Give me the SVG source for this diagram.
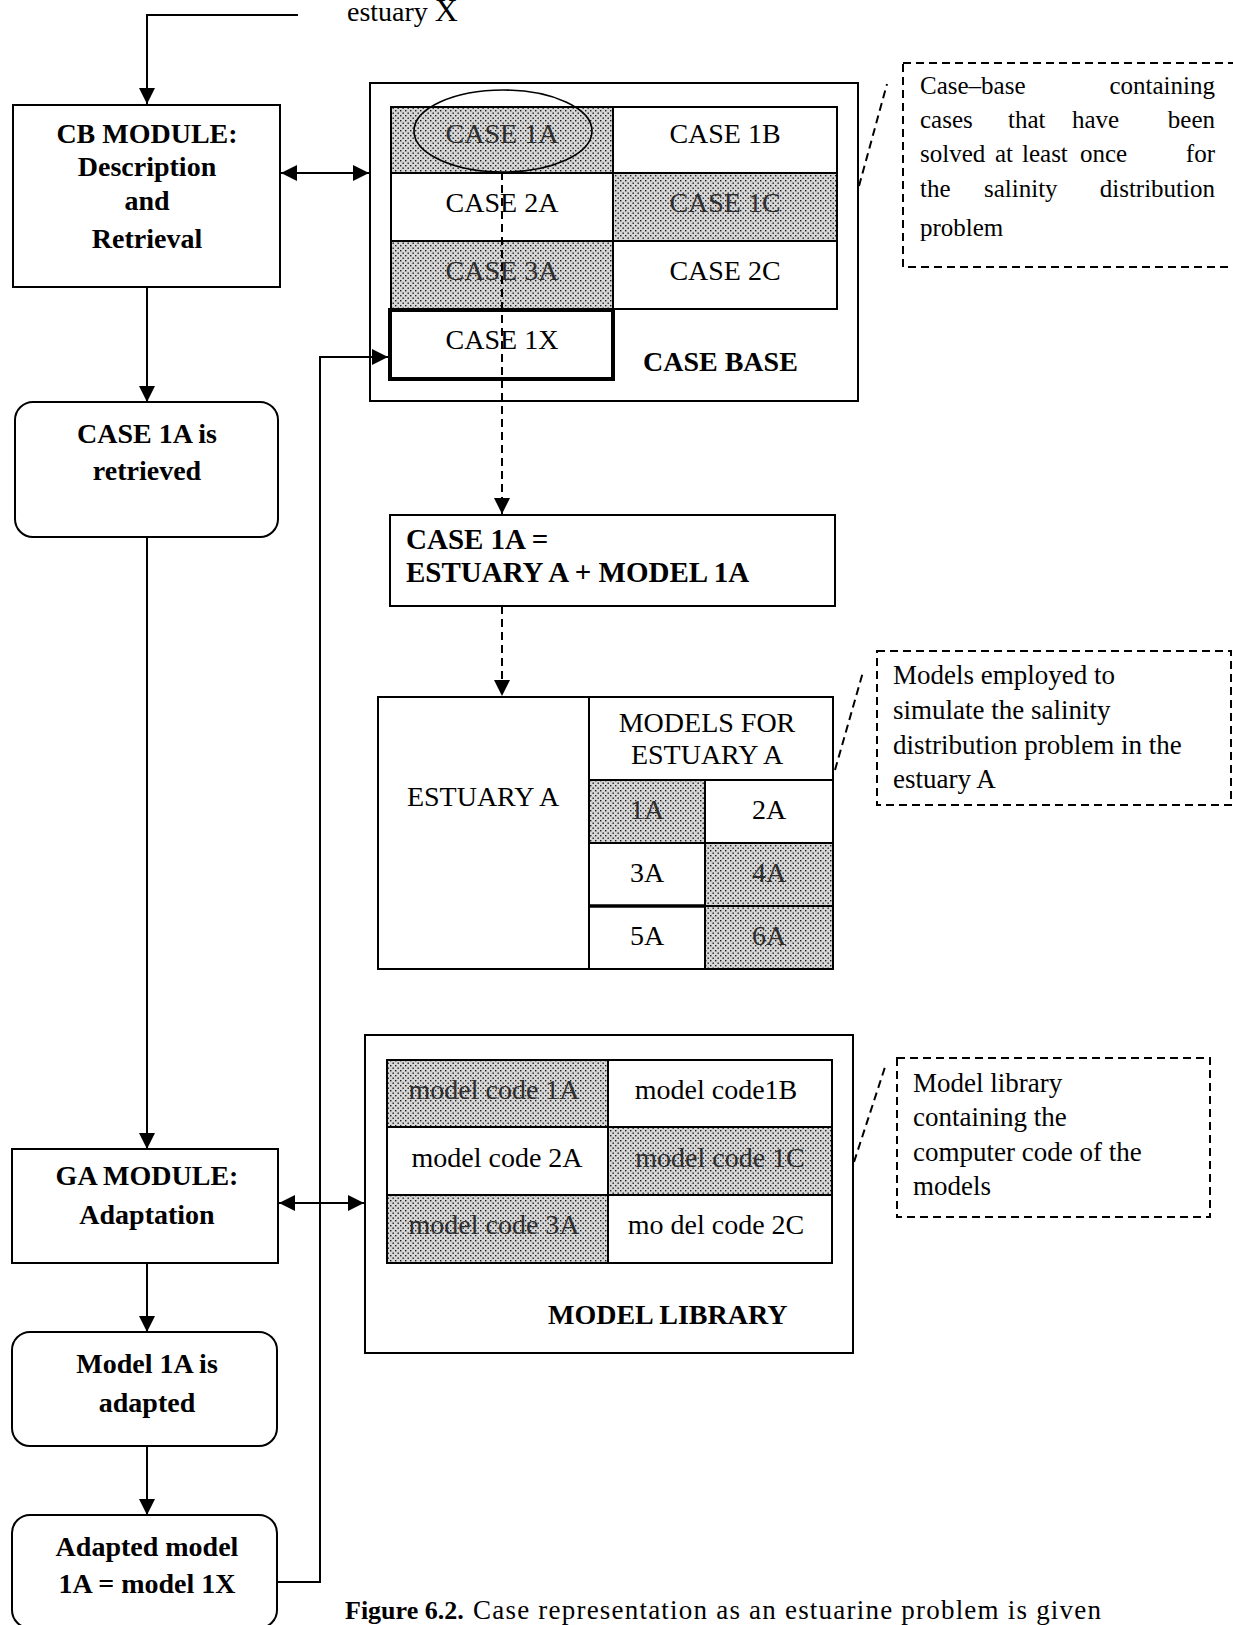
<svg xmlns="http://www.w3.org/2000/svg" width="1233" height="1625" viewBox="0 0 1233 1625">
  <style>
    .box { fill: #fff; stroke: #000; stroke-width: 2; }
    .frame { fill: none; stroke: #000; stroke-width: 2; }
    .thin { fill: none; stroke: #000; stroke-width: 1.6; }
    .shade { fill: url(#dots); stroke: none; }
    .line { fill: none; stroke: #000; stroke-width: 2; }
    .dash { fill: none; stroke: #000; stroke-width: 2; stroke-dasharray: 8 5; }
    .b { font-family: "Liberation Serif", "Times New Roman", serif; font-weight: bold; font-size: 28px; fill: #000; }
    .r { font-family: "Liberation Serif", "Times New Roman", serif; font-size: 28px; fill: #000; }
    .n { font-family: "Liberation Serif", "Times New Roman", serif; font-size: 27px; fill: #000; }
    .j { font-size: 25px; }
    .g { fill: #2e2e2e; }
    .mid { text-anchor: middle; }
    .end { text-anchor: end; }
  </style>
  <defs>
    <!-- stippled fill used for highlighted cells -->
    <pattern id="dots" width="5" height="5" patternUnits="userSpaceOnUse">
      <rect width="5" height="5" fill="#d6d6d6"/>
      <rect x="0" y="0" width="1.4" height="1.4" fill="#1a1a1a"/>
      <rect x="2.5" y="2.5" width="1.4" height="1.4" fill="#1a1a1a"/>
    </pattern>
    <marker id="arrow" markerUnits="userSpaceOnUse" viewBox="0 0 16 16" markerWidth="16" markerHeight="16" refX="16" refY="8" orient="auto-start-reverse">
      <path d="M0,0 L16,8 L0,16 Z" fill="#000"/>
    </marker>
  </defs>

  <!-- input label -->
  <g id="input">
    <text class="r" x="347" y="21">estuary <tspan font-size="32">X</tspan></text>
  </g>

  <!-- left column: process steps -->
  <g id="cb-module">
    <rect class="box" x="13" y="105" width="267" height="182"/>
    <text class="b mid" x="147" y="143">CB MODULE:</text>
    <text class="b mid" x="147" y="176">Description</text>
    <text class="b mid" x="147" y="210">and</text>
    <text class="b mid" x="147" y="248">Retrieval</text>
  </g>

  <g id="case-retrieved">
    <rect class="box" x="15" y="402" width="263" height="135" rx="18"/>
    <text class="b mid" x="147" y="443">CASE 1A is</text>
    <text class="b mid" x="147" y="480">retrieved</text>
  </g>

  <g id="ga-module">
    <rect class="box" x="12" y="1149" width="266" height="114"/>
    <text class="b mid" x="147" y="1185">GA MODULE:</text>
    <text class="b mid" x="147" y="1224">Adaptation</text>
  </g>

  <g id="model-adapted">
    <rect class="box" x="12" y="1332" width="265" height="114" rx="18"/>
    <text class="b mid" x="147" y="1373">Model 1A is</text>
    <text class="b mid" x="147" y="1412">adapted</text>
  </g>

  <g id="adapted-model">
    <rect class="box" x="12" y="1515" width="265" height="113" rx="18"/>
    <text class="b mid" x="147" y="1556">Adapted model</text>
    <text class="b mid" x="147" y="1593">1A = model 1X</text>
  </g>

  <!-- case base -->
  <g id="case-base">
    <rect class="box" x="370" y="83" width="488" height="318"/>
    <rect class="shade" x="391" y="107" width="222" height="66"/>
    <rect class="shade" x="613" y="173" width="224" height="68"/>
    <rect class="shade" x="391" y="241" width="222" height="68"/>
    <rect class="frame" x="391" y="107" width="446" height="202"/>
    <path class="line" d="M613,107 V309 M391,173 H837 M391,241 H837"/>
    <rect class="frame" x="390" y="310" width="223" height="69" style="stroke-width:4"/>
    <text class="r mid g" x="502" y="143">CASE 1A</text>
    <text class="r mid" x="725" y="143">CASE 1B</text>
    <text class="r mid" x="502" y="212">CASE 2A</text>
    <text class="r mid g" x="725" y="212">CASE 1C</text>
    <text class="r mid g" x="502" y="280">CASE 3A</text>
    <text class="r mid" x="725" y="280">CASE 2C</text>
    <text class="r mid" x="502" y="349">CASE 1X</text>
    <text class="b" x="643" y="371">CASE BASE</text>
    <ellipse class="thin" cx="503" cy="131" rx="89" ry="41"/>
    <path class="dash" d="M502,172 V514" marker-end="url(#arrow)"/>
  </g>

  <g id="case-definition">
    <rect class="box" x="390" y="515" width="445" height="91"/>
    <text class="b" x="406" y="549" style="font-size:29px">CASE 1A =</text>
    <text class="b" x="406" y="582" style="font-size:29px">ESTUARY A + MODEL 1A</text>
  </g>

  <!-- estuary A with its models -->
  <g id="estuary-table">
    <rect class="box" x="378" y="697" width="455" height="272"/>
    <rect class="shade" x="589" y="780" width="116" height="63"/>
    <rect class="shade" x="705" y="843" width="128" height="63"/>
    <rect class="shade" x="705" y="906" width="128" height="63"/>
    <rect class="frame" x="378" y="697" width="455" height="272"/>
    <path class="line" d="M589,697 V969 M589,780 H833 M705,780 V969 M589,843 H833 M705,906 H833"/>
    <path class="line" d="M589,906 H705" style="stroke-width:3.5"/>
    <text class="r mid" x="483" y="806">ESTUARY A</text>
    <text class="r mid" x="707" y="732">MODELS FOR</text>
    <text class="r mid" x="707" y="764">ESTUARY A</text>
    <text class="r mid g" x="647" y="819">1A</text>
    <text class="r mid" x="769" y="819">2A</text>
    <text class="r mid" x="647" y="882">3A</text>
    <text class="r mid g" x="769" y="882">4A</text>
    <text class="r mid" x="647" y="945">5A</text>
    <text class="r mid g" x="769" y="945">6A</text>
  </g>

  <!-- model library -->
  <g id="model-library">
    <rect class="box" x="365" y="1035" width="488" height="318"/>
    <rect class="shade" x="387" y="1060" width="221" height="67"/>
    <rect class="shade" x="608" y="1127" width="224" height="68"/>
    <rect class="shade" x="387" y="1195" width="221" height="68"/>
    <rect class="frame" x="387" y="1060" width="445" height="203"/>
    <path class="line" d="M608,1060 V1263 M387,1127 H832 M387,1195 H832"/>
    <text class="r mid g" x="494" y="1099">model code 1A</text>
    <text class="r mid" x="716" y="1099">model code1B</text>
    <text class="r mid" x="497" y="1167">model code 2A</text>
    <text class="r mid g" x="720" y="1167">model code 1C</text>
    <text class="r mid g" x="494" y="1234">model code 3A</text>
    <text class="r mid" x="716" y="1234">mo del code 2C</text>
    <text class="b" x="548" y="1324">MODEL LIBRARY</text>
  </g>

  <!-- notes -->
  <g id="note-case-base">
    <rect class="dash" x="903" y="63" width="340" height="204"/>
    <text class="n j" x="920" y="94">Case–base</text>
    <text class="n j end" x="1215" y="94">containing</text>
    <text class="n j" x="920" y="128">cases</text>
    <text class="n j" x="1008" y="128">that</text>
    <text class="n j" x="1072" y="128">have</text>
    <text class="n j end" x="1215" y="128">been</text>
    <text class="n j" x="920" y="162">solved</text>
    <text class="n j" x="995" y="162">at</text>
    <text class="n j" x="1022" y="162">least</text>
    <text class="n j" x="1080" y="162">once</text>
    <text class="n j end" x="1215" y="162">for</text>
    <text class="n j" x="920" y="197">the</text>
    <text class="n j" x="984" y="197">salinity</text>
    <text class="n j end" x="1215" y="197">distribution</text>
    <text class="n j" x="920" y="236">problem</text>
  </g>

  <g id="note-models">
    <rect class="dash" x="877" y="651" width="354" height="154"/>
    <text class="n" x="893" y="684">Models employed to</text>
    <text class="n" x="893" y="719">simulate the salinity</text>
    <text class="n" x="893" y="754">distribution problem in the</text>
    <text class="n" x="893" y="788">estuary A</text>
  </g>

  <g id="note-library">
    <rect class="dash" x="897" y="1058" width="313" height="159"/>
    <text class="n" x="913" y="1092">Model library</text>
    <text class="n" x="913" y="1126">containing the</text>
    <text class="n" x="913" y="1161">computer code of the</text>
    <text class="n" x="913" y="1195">models</text>
  </g>

  <!-- caption -->
  <g id="caption">
    <text class="b" x="345" y="1619" style="font-size:26px">Figure 6.2.</text>
    <text class="r" x="473" y="1619" style="font-size:27px" textLength="628" lengthAdjust="spacing">Case representation as an estuarine problem is given</text>
  </g>

  <!-- connectors (drawn last so arrowheads sit on top of the boxes) -->
  <g id="connectors">
    <path class="line" d="M298,15 H147 V104" marker-end="url(#arrow)"/>
    <path class="line" d="M147,287 V402" marker-end="url(#arrow)"/>
    <path class="line" d="M147,537 V1149" marker-end="url(#arrow)"/>
    <path class="line" d="M147,1263 V1332" marker-end="url(#arrow)"/>
    <path class="line" d="M147,1446 V1515" marker-end="url(#arrow)"/>
    <path class="line" d="M281,173 H369" marker-start="url(#arrow)" marker-end="url(#arrow)"/>
    <path class="line" d="M279,1203 H364" marker-start="url(#arrow)" marker-end="url(#arrow)"/>
    <path class="line" d="M278,1582 H320 V357 H388" marker-end="url(#arrow)"/>
    <path class="dash" d="M502,606 V696" marker-end="url(#arrow)"/>
    <!-- callout leaders -->
    <path class="dash" d="M859,186 L887,84"/>
    <path class="dash" d="M835,770 L863,672"/>
    <path class="dash" d="M854,1162 L886,1064"/>
  </g>
</svg>
